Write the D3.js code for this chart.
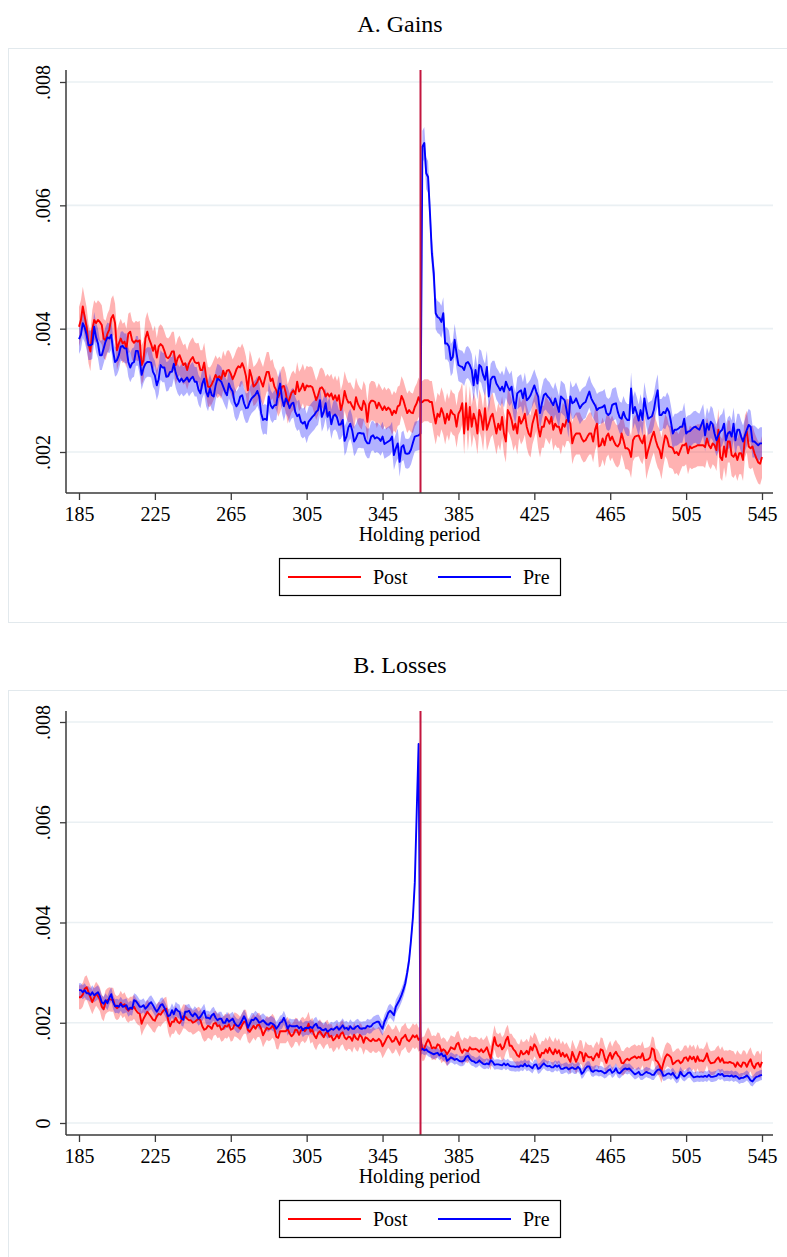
<!DOCTYPE html>
<html>
<head>
<meta charset="utf-8">
<script src="https://cdn.jsdelivr.net/npm/d3@7"></script>
<style>
  html, body { margin: 0; padding: 0; background: #ffffff; }
  svg { display: block; }
  text { font-family: "Liberation Serif", "Times New Roman", serif; fill: #000; }
</style>
</head>
<body>
<svg id="chart" width="787" height="1257"></svg>
<script>
// Holding period axis (days)
const firstDay = 185;
const lastDay = 545;
const cutoffDay = 365;
const xTicks = [185, 225, 265, 305, 345, 385, 425, 465, 505, 545];

const gainsTicks = [0.002, 0.004, 0.006, 0.008];
const lossesTicks = [0, 0.002, 0.004, 0.006, 0.008];

const seriesNames = ["Post", "Pre"];

// Daily sale rates, in units of 1/10,000, one value per day from 185 to 545.
const gainsPost = [
  40.3, 41.4, 43.6, 41.9, 40.3, 37.6, 36.3, 39.8, 41.4, 40.9, 41.4, 41.1, 40.6, 38.4, 38.1, 39.2, 39.9, 41.7, 42.2, 40.9,
  36.5, 37.6, 38.4, 37.6, 37.9, 36.8, 39.2, 39.5, 38.1, 37.7, 38.1, 37.9, 38.1, 34.1, 34.9, 38.4, 39.5, 38.3, 37.5, 36.4,
  37.3, 35.3, 37.1, 37.5, 37.2, 36.4, 35.4, 35.2, 35.6, 36.3, 36.3, 34.1, 35.2, 35.7, 34.9, 34.1, 34.4, 33.3, 34.4, 35.0,
  35.4, 34.6, 34.4, 34.5, 33.3, 33.3, 34.5, 32.2, 30.6, 30.5, 31.0, 31.7, 32.5, 31.9, 32.3, 31.8, 33.2, 32.3, 33.2, 33.3,
  32.7, 31.8, 32.5, 33.4, 33.9, 33.7, 34.4, 33.6, 32.3, 30.0, 33.3, 32.2, 30.6, 30.9, 31.4, 32.2, 31.4, 30.6, 31.9, 33.0,
  33.0, 31.5, 31.9, 30.6, 30.0, 28.9, 29.6, 30.6, 30.7, 29.6, 27.8, 28.7, 29.6, 30.0, 29.4, 31.4, 29.8, 30.3, 31.1, 30.0,
  30.8, 30.6, 30.7, 30.5, 29.5, 28.4, 29.2, 30.3, 30.5, 30.0, 29.0, 29.5, 29.0, 29.5, 28.5, 29.2, 28.3, 29.2, 26.8, 27.9,
  29.9, 28.7, 28.0, 28.1, 27.4, 26.9, 28.9, 27.8, 27.2, 26.8, 28.3, 27.6, 24.9, 27.8, 28.3, 28.3, 28.1, 27.1, 28.0, 27.4,
  26.8, 27.4, 26.8, 27.2, 26.9, 26.0, 26.7, 26.3, 27.4, 27.6, 29.1, 28.4, 27.3, 26.3, 26.8, 26.4, 26.3, 27.3, 27.9, 28.9,
  28.0, 28.1, 28.4, 28.4, 28.4, 28.1, 28.1, 26.2, 24.6, 26.2, 25.7, 27.1, 26.2, 24.6, 26.2, 25.2, 26.8, 26.2, 26.0, 24.1,
  26.2, 26.8, 27.9, 23.0, 27.9, 23.6, 27.3, 24.1, 26.2, 25.2, 23.0, 26.8, 25.7, 23.6, 27.1, 23.6, 24.6, 25.7, 26.2, 24.6,
  23.0, 24.6, 23.6, 25.7, 23.0, 21.7, 26.8, 26.2, 25.2, 23.6, 24.6, 23.0, 25.7, 24.6, 25.2, 26.2, 24.1, 23.0, 22.5, 24.6,
  25.7, 26.8, 24.1, 22.5, 24.1, 24.1, 25.7, 25.2, 24.6, 25.7, 23.6, 24.6, 24.1, 24.1, 23.0, 24.6, 24.1, 25.2, 25.2, 24.6,
  21.4, 22.5, 23.0, 23.0, 23.0, 22.2, 21.7, 21.9, 22.5, 23.0, 23.0, 21.7, 23.6, 24.6, 20.9, 21.1, 22.2, 21.1, 22.5, 23.0,
  21.9, 22.5, 21.7, 21.1, 20.9, 21.4, 23.0, 21.9, 20.6, 20.6, 20.3, 19.2, 21.9, 22.5, 22.6, 22.7, 21.9, 21.4, 22.7, 19.0,
  20.3, 21.4, 22.5, 23.3, 21.9, 20.9, 20.3, 19.0, 21.1, 22.7, 22.2, 20.9, 20.8, 20.6, 19.8, 20.0, 19.5, 20.3, 21.1, 21.1,
  21.4, 19.8, 20.9, 20.6, 20.8, 20.9, 21.1, 21.1, 21.1, 21.1, 20.8, 22.2, 21.1, 20.6, 21.4, 21.1, 20.3, 23.6, 19.2, 18.7,
  20.9, 19.2, 21.7, 21.7, 19.5, 19.2, 19.8, 18.7, 19.8, 19.8, 18.7, 22.5, 23.3, 20.9, 20.6, 20.9, 19.8, 19.0, 18.3, 18.1,
  19.2
];

const gainsPre = [
  38.3, 39.0, 40.9, 40.2, 39.0, 37.3, 37.3, 37.5, 40.3, 38.6, 37.6, 35.7, 35.7, 36.8, 37.9, 38.6, 38.4, 39.0, 36.3, 34.6,
  34.9, 35.7, 37.1, 37.2, 36.8, 36.8, 34.6, 33.7, 34.4, 34.6, 36.4, 36.4, 34.9, 32.5, 33.6, 34.3, 34.6, 34.6, 34.5, 33.0,
  32.4, 30.8, 31.8, 34.1, 33.7, 33.7, 32.2, 32.3, 33.0, 33.0, 34.3, 32.8, 31.9, 31.4, 31.9, 31.4, 31.7, 32.1, 31.4, 31.9,
  32.2, 31.4, 31.4, 30.1, 29.5, 31.1, 31.9, 29.8, 29.0, 30.3, 29.2, 29.0, 30.8, 31.9, 31.7, 31.4, 30.6, 29.8, 29.2, 31.1,
  30.3, 29.8, 28.1, 27.4, 27.9, 29.0, 29.2, 27.9, 27.1, 27.2, 28.1, 28.7, 29.0, 29.3, 29.9, 29.0, 26.3, 25.2, 25.4, 25.2,
  29.0, 27.6, 27.1, 27.6, 27.6, 29.8, 31.1, 28.7, 27.4, 28.7, 28.1, 27.1, 27.8, 28.0, 26.5, 25.8, 26.1, 24.9, 24.6, 24.9,
  23.8, 24.9, 25.3, 25.7, 26.0, 26.5, 26.8, 28.4, 25.7, 26.5, 27.9, 25.7, 26.5, 24.5, 25.8, 26.1, 25.6, 24.4, 24.5, 25.2,
  21.8, 22.5, 24.0, 24.6, 23.5, 21.7, 22.2, 23.0, 23.1, 23.0, 23.0, 21.9, 21.4, 21.4, 22.5, 22.7, 22.2, 22.4, 22.2, 21.8,
  22.5, 21.3, 21.5, 21.7, 21.9, 22.5, 19.5, 20.6, 21.4, 18.4, 20.8, 21.1, 19.8, 19.7, 19.8, 20.4, 21.5, 22.5, 22.6, 22.7,
  23.0, 69.5, 70.1, 65.2, 64.6, 58.7, 52.2, 49.0, 42.5, 41.9, 41.7, 41.1, 42.5, 37.6, 37.6, 37.1, 34.9, 35.4, 38.2, 36.0,
  34.1, 33.9, 33.8, 33.3, 34.4, 34.6, 34.1, 33.3, 30.8, 33.3, 31.1, 34.1, 33.8, 32.5, 31.7, 33.8, 29.0, 31.7, 32.2, 32.2,
  31.1, 30.6, 30.0, 30.6, 29.8, 31.4, 30.6, 30.0, 30.6, 28.4, 27.1, 29.5, 29.8, 30.0, 28.7, 30.3, 28.4, 28.7, 29.2, 30.0,
  30.8, 29.8, 29.0, 26.3, 27.9, 29.2, 29.5, 29.0, 28.7, 28.1, 27.6, 28.7, 27.6, 26.5, 29.0, 28.7, 28.4, 26.8, 24.9, 29.0,
  27.9, 28.1, 28.7, 27.9, 27.1, 27.6, 27.9, 28.1, 29.0, 29.8, 28.7, 28.1, 27.6, 26.8, 27.1, 27.2, 27.3, 27.6, 26.3, 26.0,
  26.3, 27.6, 27.8, 27.9, 26.5, 25.6, 25.4, 26.5, 25.6, 25.2, 25.2, 30.3, 26.3, 27.3, 26.3, 25.1, 26.8, 25.2, 28.7, 26.8,
  25.4, 25.6, 25.8, 26.8, 28.7, 30.0, 26.0, 26.0, 26.5, 26.3, 27.1, 26.5, 24.9, 23.0, 23.6, 23.6, 23.8, 24.1, 24.1, 25.4,
  23.0, 23.3, 23.4, 23.7, 24.0, 24.1, 23.8, 23.6, 24.4, 25.2, 22.7, 24.6, 23.6, 24.9, 24.5, 23.0, 21.9, 22.7, 23.3, 23.6,
  24.6, 21.9, 23.0, 23.3, 22.5, 24.6, 21.9, 23.6, 23.6, 22.5, 21.7, 22.7, 23.6, 24.4, 24.1, 21.7, 21.7, 21.4, 21.1, 21.4,
  21.4
];

const lossesPost = [
  25.1, 25.1, 25.6, 26.8, 27.1, 26.1, 25.1, 24.1, 25.0, 25.8, 25.3, 24.7, 23.2, 22.7, 24.1, 24.5, 24.7, 24.6, 24.6, 23.3,
  22.9, 23.2, 24.0, 23.3, 23.7, 22.8, 22.4, 22.8, 22.8, 23.2, 22.5, 22.0, 21.8, 19.8, 20.8, 21.5, 22.2, 21.7, 21.2, 20.6,
  20.4, 21.3, 21.8, 21.6, 22.2, 22.6, 22.8, 20.5, 19.3, 20.2, 20.2, 21.0, 20.2, 19.9, 20.5, 21.3, 21.2, 20.8, 20.5, 20.5,
  20.0, 20.2, 20.5, 20.8, 20.5, 19.3, 18.6, 18.8, 19.4, 19.2, 18.8, 19.8, 20.0, 19.3, 19.5, 18.6, 18.8, 19.4, 19.2, 19.7,
  18.6, 18.8, 19.7, 19.5, 19.2, 18.8, 19.6, 20.2, 20.2, 18.6, 18.2, 18.8, 19.4, 18.8, 19.5, 19.6, 18.8, 17.5, 18.3, 19.0,
  18.7, 18.9, 19.4, 18.8, 17.2, 17.0, 18.3, 18.3, 18.3, 18.3, 18.8, 17.9, 17.3, 17.7, 18.6, 18.5, 17.6, 18.5, 18.8, 18.3,
  18.8, 19.8, 18.2, 18.6, 17.5, 16.9, 17.9, 18.3, 17.7, 17.1, 17.9, 18.2, 17.2, 17.4, 16.5, 16.9, 17.6, 16.9, 17.8, 18.1,
  17.1, 16.7, 17.2, 17.1, 16.4, 17.6, 16.9, 16.6, 17.6, 17.2, 16.0, 17.1, 16.9, 16.5, 16.3, 16.8, 16.4, 16.4, 16.8, 16.4,
  15.3, 16.0, 16.8, 17.4, 16.9, 16.2, 16.4, 17.2, 16.4, 15.6, 16.8, 17.1, 17.6, 16.6, 16.3, 16.8, 17.5, 17.1, 17.5, 16.6,
  16.9, 14.7, 14.9, 15.9, 16.7, 16.0, 14.9, 15.1, 14.9, 15.7, 15.5, 14.3, 14.7, 14.4, 13.7, 14.3, 15.1, 14.9, 14.7, 15.7,
  16.0, 14.7, 14.0, 14.7, 14.5, 14.3, 15.1, 14.7, 14.7, 14.8, 14.6, 14.2, 14.7, 14.1, 14.5, 15.1, 13.9, 12.9, 15.2, 17.1,
  15.6, 15.3, 15.7, 14.7, 15.2, 16.5, 17.2, 15.4, 15.4, 14.7, 14.3, 13.5, 13.2, 14.4, 13.7, 13.9, 14.4, 13.7, 15.2, 14.5,
  15.7, 15.1, 14.0, 13.1, 14.0, 13.9, 14.7, 14.0, 15.0, 14.2, 13.7, 14.7, 13.9, 14.5, 13.3, 14.0, 13.2, 13.7, 12.9, 12.2,
  14.2, 13.2, 12.2, 13.1, 14.2, 14.0, 12.3, 13.9, 13.3, 13.1, 13.2, 12.5, 13.3, 13.9, 13.1, 14.7, 14.5, 13.1, 12.0, 13.2,
  14.0, 12.8, 13.7, 14.2, 13.5, 13.1, 12.0, 11.9, 12.5, 12.8, 12.5, 12.9, 13.1, 13.3, 12.9, 13.2, 13.0, 13.9, 12.5, 12.6,
  12.7, 13.1, 14.9, 14.6, 12.5, 12.2, 11.5, 10.4, 11.9, 13.1, 13.7, 13.5, 13.1, 11.7, 12.0, 12.4, 12.5, 11.9, 12.2, 13.0,
  13.1, 12.4, 13.3, 12.7, 13.2, 12.2, 13.3, 12.4, 12.5, 12.3, 12.9, 13.9, 12.5, 11.9, 12.0, 12.1, 12.7, 13.1, 12.2, 12.9,
  12.0, 12.1, 12.0, 12.2, 12.0, 11.9, 11.2, 12.1, 11.5, 11.2, 12.1, 12.0, 11.2, 12.1, 12.7, 11.5, 10.9, 11.8, 12.0, 11.2,
  12.2
];

const lossesPre = [
  26.5, 26.5, 26.1, 26.5, 25.9, 25.9, 25.5, 26.1, 25.5, 25.8, 26.1, 25.3, 24.1, 23.8, 24.5, 23.9, 25.0, 25.7, 24.1, 23.3,
  23.4, 23.2, 23.8, 23.2, 23.3, 23.5, 22.6, 23.0, 22.8, 24.5, 24.3, 23.8, 23.2, 23.2, 23.5, 22.8, 23.2, 23.8, 24.1, 23.5,
  22.8, 22.2, 22.8, 23.5, 23.7, 23.0, 22.2, 21.3, 21.5, 22.5, 21.7, 22.8, 22.4, 22.2, 20.8, 20.6, 22.2, 22.2, 22.4, 21.7,
  21.3, 21.9, 21.5, 20.8, 21.2, 21.8, 22.4, 21.0, 21.0, 20.8, 21.5, 21.8, 21.0, 20.5, 20.8, 20.8, 20.0, 20.0, 20.8, 20.2,
  20.5, 20.8, 20.0, 19.5, 19.3, 19.8, 20.5, 21.3, 20.5, 19.0, 19.8, 20.6, 20.5, 21.0, 20.6, 20.0, 20.2, 20.5, 20.1, 19.7,
  19.6, 20.0, 19.8, 19.5, 18.8, 19.3, 20.0, 20.2, 21.0, 20.0, 18.8, 19.5, 19.3, 19.3, 19.3, 19.4, 18.9, 19.2, 18.5, 18.9,
  19.0, 18.9, 19.2, 18.9, 19.5, 19.8, 19.0, 19.0, 18.6, 18.5, 18.8, 18.2, 18.5, 18.8, 18.6, 18.9, 19.2, 18.6, 19.0, 19.5,
  18.8, 19.0, 18.6, 19.3, 18.8, 18.8, 19.2, 19.4, 18.9, 18.8, 18.9, 18.9, 19.4, 19.2, 19.3, 19.8, 20.0, 20.2, 20.2, 19.4,
  18.8, 20.2, 21.0, 22.0, 22.4, 22.0, 21.5, 23.2, 23.9, 24.6, 25.5, 26.6, 27.9, 30.0, 32.5, 36.5, 41.0, 48.0, 62.0, 75.6,
  14.5, 14.8, 14.5, 14.7, 14.3, 14.1, 13.9, 13.7, 13.9, 14.0, 13.5, 13.9, 13.3, 13.5, 12.4, 12.7, 13.1, 12.9, 12.6, 12.8,
  12.5, 12.3, 12.3, 12.5, 13.2, 13.4, 12.8, 12.4, 12.3, 12.0, 12.1, 12.5, 12.1, 11.8, 11.7, 11.9, 11.7, 12.5, 12.2, 11.6,
  11.7, 11.7, 11.6, 11.5, 11.9, 11.5, 11.8, 11.4, 11.3, 11.3, 11.2, 11.3, 11.2, 11.5, 11.3, 11.8, 11.3, 11.5, 11.2, 10.9,
  11.6, 11.7, 10.8, 11.0, 11.5, 11.9, 11.5, 11.3, 11.4, 11.1, 11.1, 11.5, 11.2, 11.5, 10.8, 10.8, 11.0, 11.1, 10.7, 10.9,
  11.1, 10.8, 10.8, 11.2, 10.8, 9.8, 10.2, 10.9, 11.3, 11.3, 10.4, 10.2, 10.5, 10.5, 10.3, 10.4, 10.2, 9.9, 10.1, 10.5,
  10.7, 10.0, 10.3, 10.9, 10.1, 9.9, 10.3, 10.7, 10.9, 10.7, 10.9, 10.5, 10.1, 9.7, 9.9, 10.2, 9.6, 9.6, 9.9, 10.2,
  10.0, 9.9, 9.6, 9.6, 10.2, 10.6, 10.7, 10.3, 9.4, 9.5, 9.8, 9.9, 9.6, 10.0, 9.4, 8.9, 9.2, 10.2, 9.6, 9.3,
  9.6, 10.0, 10.1, 9.5, 9.1, 9.2, 9.3, 9.2, 9.3, 9.2, 9.4, 9.2, 9.6, 9.2, 9.2, 9.3, 9.4, 9.8, 9.6, 9.8,
  9.3, 9.4, 9.4, 9.3, 9.5, 9.2, 9.4, 9.2, 8.8, 9.0, 9.0, 9.2, 9.5, 9.1, 8.5, 8.3, 8.8, 9.2, 9.3, 9.5,
  9.6
];

// 95% confidence half-widths (same units), before and after day 365
const gainsPostCI = [3.2, 3.4];
const gainsPreCI = [2.4, 2.6];
const lossesPostCI = [2.4, 2.4];
const lossesPreCI = [1.4, 1.0];

const RATE_UNIT = 1e-4;

const svg = d3.select("#chart");
const plotLeft = 66;
const plotRight = 773;
const x = d3.scaleLinear().domain([firstDay, lastDay]).range([79, 762]);

const COLORS = { Post: "#ff0000", Pre: "#0000ff" };
const BAND_FILL = { Post: "rgba(255,0,0,0.3)", Pre: "rgba(0,0,255,0.3)" };

function toPoints(values, ci) {
  return values.map((v, i) => {
    const day = firstDay + i;
    const h = ci[day < cutoffDay ? 0 : 1];
    return { day, v: v * RATE_UNIT, lo: (v - h) * RATE_UNIT, hi: (v + h) * RATE_UNIT };
  });
}

function tickText(v) {
  return v === 0 ? "0" : d3.format(".3f")(v).replace(/^0/, "");
}

function drawPanel(opt, idx) {
  const g = svg.append("g");
  const y = d3.scaleLinear().domain(opt.yDomain).range(opt.yRange);

  // panel frame
  g.append("rect")
    .attr("x", 8.5).attr("y", opt.frameTop + 0.5)
    .attr("width", 800).attr("height", opt.frameHeight)
    .attr("fill", "none").attr("stroke", "#e2e9ed").attr("stroke-width", 1);

  // title
  g.append("text")
    .attr("x", 400).attr("y", opt.titleY)
    .attr("text-anchor", "middle").attr("font-size", 24)
    .text(opt.title);

  // horizontal grid
  g.append("g").selectAll("line").data(opt.yTicks).join("line")
    .attr("x1", plotLeft).attr("x2", plotRight)
    .attr("y1", d => y(d)).attr("y2", d => y(d))
    .attr("stroke", "#eaf0f3").attr("stroke-width", 1.6);

  const clipId = "clip" + idx;
  svg.append("clipPath").attr("id", clipId).append("rect")
    .attr("x", plotLeft).attr("y", opt.plotTop)
    .attr("width", plotRight - plotLeft).attr("height", opt.plotBottom - opt.plotTop);

  const marks = g.append("g").attr("clip-path", `url(#${clipId})`);

  const series = [
    { name: "Post", pts: toPoints(opt.post, opt.postCI) },
    { name: "Pre", pts: toPoints(opt.pre, opt.preCI) }
  ];

  const area = d3.area().x(d => x(d.day)).y0(d => y(d.lo)).y1(d => y(d.hi));
  const line = d3.line().x(d => x(d.day)).y(d => y(d.v));

  marks.selectAll("path.band").data(series).join("path")
    .attr("class", "band")
    .attr("d", s => area(s.pts))
    .attr("fill", s => BAND_FILL[s.name]).attr("stroke", "none");

  marks.selectAll("path.rate").data(series).join("path")
    .attr("class", "rate")
    .attr("d", s => line(s.pts))
    .attr("fill", "none").attr("stroke", s => COLORS[s.name])
    .attr("stroke-width", 1.9).attr("stroke-linejoin", "round");

  // one-year threshold
  g.append("line")
    .attr("x1", x(cutoffDay)).attr("x2", x(cutoffDay))
    .attr("y1", opt.plotTop).attr("y2", opt.plotBottom)
    .attr("stroke", "#c3163f").attr("stroke-width", 2);

  // y axis
  const yAxis = g.append("g")
    .attr("transform", `translate(${plotLeft},0)`)
    .call(d3.axisLeft(y).tickValues(opt.yTicks).tickSize(6).tickFormat(tickText))
    .call(a => a.select(".domain").remove())
    .call(a => a.selectAll(".tick line").attr("stroke", "#3a3a3a").attr("stroke-width", 1.3))
    .call(a => a.selectAll(".tick text")
      .attr("x", 0).attr("dy", null)
      .attr("text-anchor", "middle")
      .attr("transform", "translate(-16.5,0) rotate(-90)")
      .attr("font-family", "Liberation Serif, serif")
      .attr("font-size", 20).attr("fill", "#000"));
  yAxis.append("line")
    .attr("x1", 0).attr("x2", 0).attr("y1", opt.plotTop).attr("y2", opt.plotBottom)
    .attr("stroke", "#3a3a3a").attr("stroke-width", 1.5);

  // x axis
  const xAxis = g.append("g")
    .attr("transform", `translate(0,${opt.plotBottom})`)
    .call(d3.axisBottom(x).tickValues(xTicks).tickSize(7).tickFormat(d3.format("d")))
    .call(a => a.select(".domain").remove())
    .call(a => a.selectAll(".tick line").attr("stroke", "#3a3a3a").attr("stroke-width", 1.3))
    .call(a => a.selectAll(".tick text")
      .attr("y", 27.5).attr("dy", null)
      .attr("font-family", "Liberation Serif, serif")
      .attr("font-size", 20).attr("fill", "#000"));
  xAxis.append("line")
    .attr("x1", plotLeft).attr("x2", plotRight).attr("y1", 0).attr("y2", 0)
    .attr("stroke", "#3a3a3a").attr("stroke-width", 1.5);

  g.append("text")
    .attr("x", (plotLeft + plotRight) / 2).attr("y", opt.plotBottom + 47.5)
    .attr("text-anchor", "middle").attr("font-size", 20)
    .text("Holding period");

  // legend
  const lgTop = opt.plotBottom + 65;
  const lg = g.append("g").attr("transform", `translate(279,${lgTop})`);
  lg.append("rect").attr("x", 0.5).attr("y", 0.5).attr("width", 281).attr("height", 37)
    .attr("fill", "#fff").attr("stroke", "#000").attr("stroke-width", 1.2);
  const items = [
    { name: seriesNames[0], x0: 9, tx: 94 },
    { name: seriesNames[1], x0: 159, tx: 244 }
  ];
  items.forEach(it => {
    lg.append("line")
      .attr("x1", it.x0).attr("x2", it.x0 + 73).attr("y1", 19).attr("y2", 19)
      .attr("stroke", COLORS[it.name]).attr("stroke-width", 1.9);
    lg.append("text")
      .attr("x", it.tx).attr("y", 25.5).attr("font-size", 20)
      .text(it.name);
  });
}

const panels = [
  {
    title: "A. Gains", titleY: 32, frameTop: 48, frameHeight: 574,
    yDomain: [0.002, 0.008], yRange: [452, 82], plotTop: 70, plotBottom: 493,
    yTicks: gainsTicks, post: gainsPost, pre: gainsPre,
    postCI: gainsPostCI, preCI: gainsPreCI
  },
  {
    title: "B. Losses", titleY: 673, frameTop: 690, frameHeight: 600,
    yDomain: [0, 0.008], yRange: [1123, 722], plotTop: 711, plotBottom: 1135,
    yTicks: lossesTicks, post: lossesPost, pre: lossesPre,
    postCI: lossesPostCI, preCI: lossesPreCI
  }
];

panels.forEach((p, i) => drawPanel(p, i));
</script>
</body>
</html>
